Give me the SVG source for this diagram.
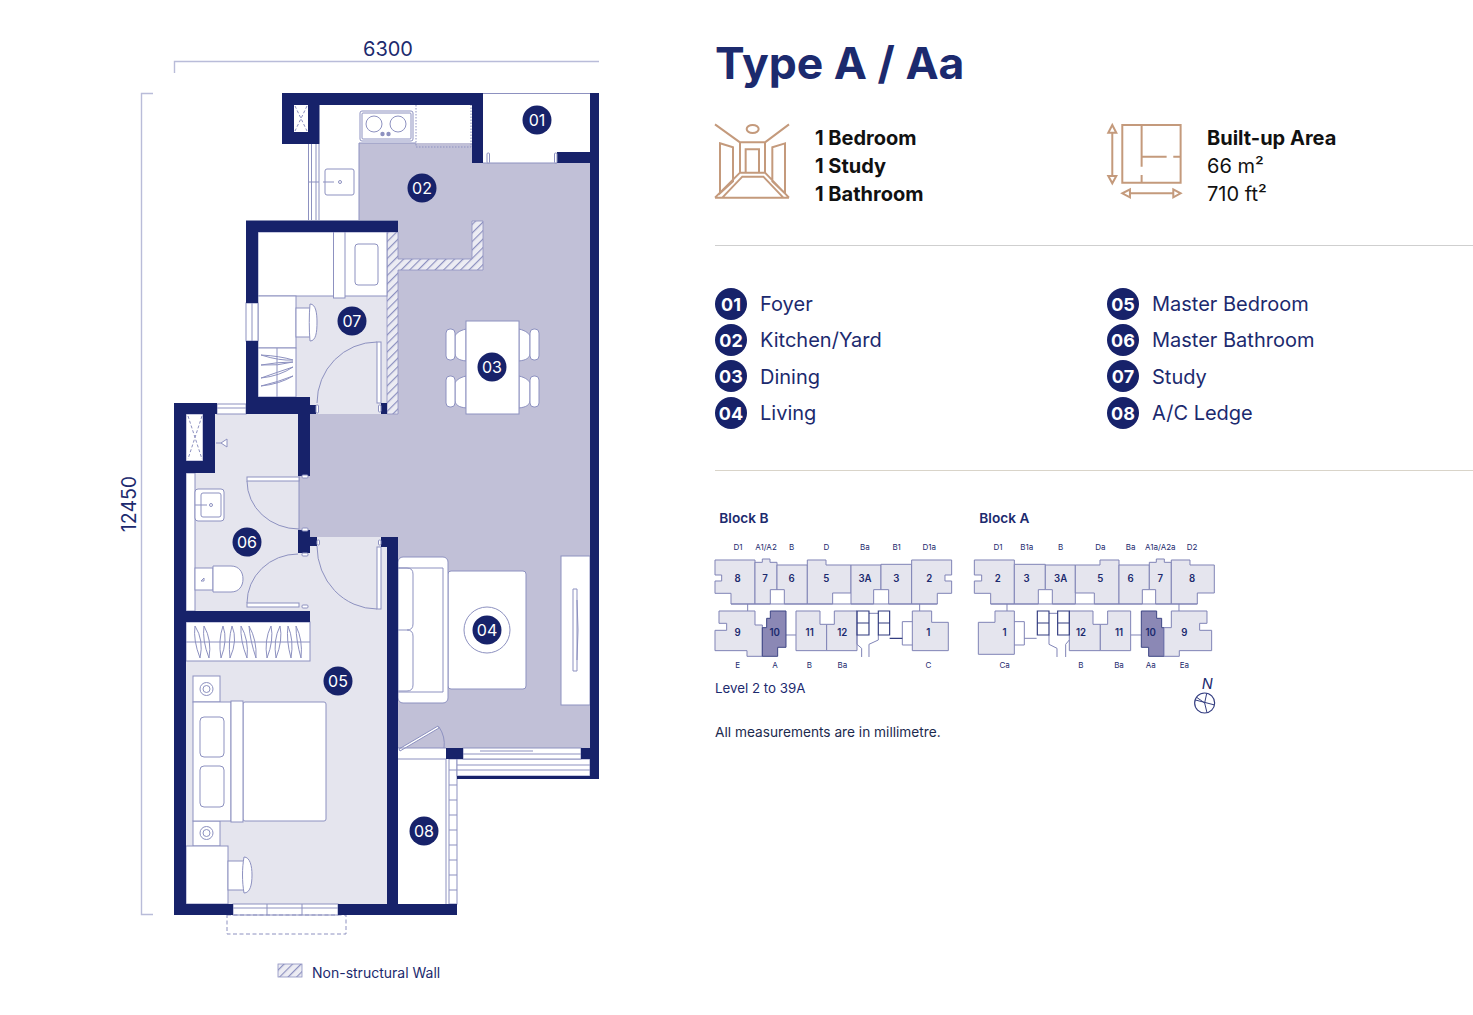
<svg xmlns="http://www.w3.org/2000/svg" width="1473" height="1015" viewBox="0 0 1473 1015">
<style>
text{font-family:Inter,"Liberation Sans",sans-serif;fill:#1c2a6e}
.w{fill:#17226a}
.o{fill:none;stroke:#8d91c0;stroke-width:1}
.f{fill:#fff;stroke:#8d91c0;stroke-width:1}
.l{fill:#e5e5ee}
.dim{fill:none;stroke:#b9bcd9;stroke-width:1.4}
.bc{fill:#17226a}
.bt{fill:#fff;font-size:16px;text-anchor:middle}
.lc{fill:#17226a}
.lt{fill:#fff;font-size:18px;font-weight:700;text-anchor:middle}
.ll{font-size:20px}
.sp{font-size:20px;font-weight:700;fill:#111}
.sr{font-size:20px;fill:#111}
.ic{fill:none;stroke:#c49a7c;stroke-width:6}
.u{fill:#e5e5ee;stroke:#7f84b6;stroke-width:3}
.d{fill:#8b88b5;stroke:#3d4585;stroke-width:3}
.k{fill:#fff;stroke:#7f84b6;stroke-width:3}
.c{fill:none;stroke:#333d80;stroke-width:3.5}
.n{font-size:29px;font-weight:600;text-anchor:middle}
.s{font-size:24px;text-anchor:middle}
.g{fill:none;stroke:#7f84b6;stroke-width:3}
</style>
<defs>
<pattern id="h" width="6" height="6" patternUnits="userSpaceOnUse" patternTransform="rotate(45)">
<rect width="6" height="6" fill="#ececf3"/><rect width="1.2" height="6" fill="#8d91c0"/>
</pattern>
</defs>
<g id="dimensions">
<path class="dim" d="M174.500 73V61.500H599M153 93.500H141.500V914.500H153"/>
<text x="388" y="55.500" font-size="20" text-anchor="middle">6300</text>
<text transform="translate(136,504) rotate(-90)" font-size="19.500" text-anchor="middle">12450</text>
</g>
<g id="plan">
<path fill="#c1c0d7" d="M359 143H472V163H590V748H398V537H299V476H310V414H398V220H359Z"/>
<path class="l" d="M296 296H387V414H296ZM215 414H299V473H215ZM186 473H299V611H186ZM186 622H387V904H186ZM299 537H387V622H299Z"/>
<path class="o" d="M483 93.500H590M483 163H557M299 476V530"/>
<g id="walls-nonstructural" fill="url(#h)" stroke="#8d91c0" stroke-width=".8">
<path d="M387 232H398V259H472V221H483V270H398V414H387Z"/>
</g>
<g id="kitchen">
<rect class="f" x="360" y="111" width="53" height="30" rx="2"/>
<rect class="o" x="362" y="113" width="49" height="26" rx="1"/>
<circle class="o" cx="374" cy="124" r="8"/><circle class="o" cx="398" cy="124" r="8"/>
<circle cx="382.500" cy="134" r="2.200" fill="#8d91c0"/><circle cx="388.500" cy="134" r="2.200" fill="#8d91c0"/>
<path d="M416 105V147H471V105" fill="none" stroke="#8d91c0" stroke-dasharray="1.500 1.500"/>
<rect class="o" x="325" y="169" width="29" height="26" rx="2"/>
<path class="o" d="M323 182H334M359 143V220M359 143H416"/>
<circle class="o" cx="340" cy="182" r="1.500"/>
<path class="o" d="M308.500 144V220M311.500 144V220M316 144V220M319 144V220M308 182H319"/>
<path class="o" d="M295 106L307 131M307 106L295 131" stroke-dasharray="3 2"/>
</g>
<g id="study">
<rect class="f" x="258" y="232" width="129" height="64"/>
<rect class="f" x="333.500" y="232" width="11.500" height="66"/>
<rect class="o" x="355" y="244" width="23" height="41" rx="3"/>
<rect class="f" x="258" y="296" width="38" height="52"/>
<rect class="f" x="258" y="348" width="38" height="49"/>
<path class="o" d="M277 348V397M261 355Q280 356 293 360 280 361 261 355ZM261 365Q278 362 293 362 278 366 261 365ZM261 378Q278 372 293 367 280 376 261 378ZM261 386Q278 382 293 376 280 384 261 386Z"/>
<rect class="f" x="296" y="308" width="15" height="29"/>
<path class="f" d="M310 304C316 304 317 314 317 322 317 332 316 341 310 341 309 330 309 315 310 304Z"/>
<rect class="f" x="377" y="342" width="4" height="61"/>
<path class="o" d="M377 342A60 61 0 0 0 317 403"/>
<rect class="f" x="246" y="303" width="12" height="38"/><path class="o" d="M252 303V341"/>
</g>
<g id="dining">
<path class="f" d="M466 329C458 331 456 334 455 336V354C456 358 458 360 466 361ZM466 376C458 378 456 381 455 383V401C456 405 458 407 466 408ZM519 329C527 331 529 334 530 336V354C529 358 527 360 519 361ZM519 376C527 378 529 381 530 383V401C529 405 527 407 519 408Z"/>
<rect class="f" x="446" y="329" width="9" height="31" rx="4"/><rect class="f" x="446" y="376" width="9" height="31" rx="4"/>
<rect class="f" x="530" y="329" width="9" height="31" rx="4"/><rect class="f" x="530" y="376" width="9" height="31" rx="4"/>
<rect class="f" x="466" y="321" width="53" height="93"/>
</g>
<g id="living">
<rect class="f" x="448" y="571" width="78" height="118" rx="3"/>
<rect class="f" x="398" y="557" width="50" height="146" rx="5"/>
<path class="o" d="M398 568H443V692H398M398 568H407Q413 568 413 574V624Q413 630 407 630H398M407 630Q413 630 413 636V685Q413 691 407 691H398"/>
<circle class="f" cx="487" cy="630" r="23"/>
<rect class="f" x="561" y="556" width="29" height="149"/>
<path class="f" d="M573 589H577V671H573Z"/>
<path class="o" d="M577 600Q579 630 577 660"/>
</g>
<g id="bathroom">
<path class="f" d="M186 473H195V611H186Z"/>
<rect class="f" x="195" y="489" width="29" height="32" rx="3"/>
<rect class="o" x="201" y="493" width="20" height="24" rx="2"/>
<path class="o" d="M195 505H207"/><circle class="o" cx="211" cy="505" r="1.500"/>
<rect class="f" x="195" y="568" width="18" height="22"/>
<path class="f" d="M213 566H231C239 566 243 572 243 579 243 586 239 592 231 592H213Z"/>
<path class="o" d="M201 581L204 578 204 581Z"/>
<rect class="f" x="186" y="414" width="17" height="47"/>
<path class="o" d="M188 416L202 459M202 416L188 459" stroke-dasharray="3 2"/>
<path class="f" d="M216 443H221L227 439V447L221 443"/>
<rect class="f" x="247" y="477" width="52" height="4"/>
<path class="o" d="M247 481A52 48 0 0 0 299 529"/>
<rect class="f" x="247" y="603" width="52" height="4"/>
<path class="o" d="M247 603A51 49 0 0 1 298 554"/>
<rect class="f" x="217" y="404" width="29" height="10"/><path class="o" d="M217 408H246"/>
</g>
<g id="bedroom">
<rect class="f" x="377" y="547" width="4" height="62"/>
<path class="o" d="M377 609A60 63 0 0 1 317 546"/>
<rect class="f" x="186" y="622" width="124" height="39"/>
<path class="o" d="M186 642H310M195 626Q193 640 200 658 204 640 195 626ZM204 626Q202 640 209 658 212 640 204 626ZM223 626Q218 640 221 658 228 640 223 626ZM232 626Q228 640 230 658 238 640 232 626ZM241 626Q240 640 247 658 249 640 241 626ZM249 626Q250 640 256 658 257 640 249 626ZM271 626Q264 640 267 658 274 640 271 626ZM280 626Q273 640 276 658 283 640 280 626ZM288 626Q286 640 291 658 294 640 288 626ZM296 626Q296 640 301 658 303 640 296 626Z"/>
<rect class="f" x="193" y="676" width="27" height="26"/><rect class="f" x="193" y="821" width="27" height="25"/>
<circle class="o" cx="206.500" cy="689" r="6.500"/><circle class="o" cx="206.500" cy="689" r="3.500"/>
<circle class="o" cx="206.500" cy="833" r="6.500"/><circle class="o" cx="206.500" cy="833" r="3.500"/>
<rect class="f" x="193" y="702" width="38" height="119"/>
<rect class="o" x="200" y="717" width="24" height="40" rx="4"/><rect class="o" x="200" y="766" width="24" height="41" rx="4"/>
<rect class="f" x="243" y="702" width="83" height="119" rx="2"/>
<rect class="f" x="231" y="701" width="12" height="121"/>
<rect class="f" x="186" y="846" width="42" height="58"/>
<rect class="f" x="228" y="861" width="16" height="29"/>
<path class="f" d="M244 857C250 857 252 866 252 875 252 885 250 893 244 893 242 882 242 868 244 857Z"/>
<rect class="f" x="233" y="904" width="105" height="11"/>
<path class="o" d="M233 908H338M267 904V915M302 904V915"/>
<rect x="227" y="915" width="119" height="19" fill="none" stroke="#8d91c0" stroke-dasharray="4 2.500"/>
</g>
<g id="ledge">
<path class="o" d="M398 759H446M446 759V904"/>
<rect class="f" x="449" y="759" width="8" height="145"/>
<path class="o" d="M449 770H457M449 785H457M449 800H457M449 815H457M449 830H457M449 845H457M449 860H457M449 875H457M449 890H457"/>
<rect class="f" x="457" y="759" width="133" height="17"/>
<path class="o" d="M457 765H590M457 770H590"/>
<rect class="f" x="463" y="748" width="118" height="11"/>
<path class="o" d="M463 754H581M480 751H533"/>
<path fill="#fff" stroke="#8d91c0" d="M399 749L438 726 439 728 400 751Z"/>
<path class="o" d="M439 727A30 30 0 0 1 444 748"/>
<path class="o" d="M398 748H446"/>
</g>
<g id="walls" class="w">
<path d="M282 93H483V163H472V105H319.500V144H282ZM294 105V132H308V105Z" fill-rule="evenodd"/>
<rect x="590" y="93" width="9" height="686"/>
<rect x="557" y="152" width="33" height="11"/>
<path d="M246 220.500H398V232H258V303H246ZM246 341H258V397H310V414H298V414H246Z"/>
<rect x="310" y="405" width="6" height="9"/>
<rect x="381" y="403" width="6" height="11"/>
<path d="M174 403H217V414H215V473H186V904H233V915H174ZM186 414V461H203V414Z" fill-rule="evenodd"/>
<rect x="298" y="414" width="12" height="62"/>
<rect x="298" y="530" width="12" height="23"/><rect x="310" y="537" width="7" height="9"/>
<rect x="186" y="611" width="124" height="11"/>
<path d="M381 537H398V904H457V915H338V904H387V547H381Z"/>
<rect x="457" y="776" width="142" height="3"/>
<rect x="446" y="748" width="17" height="11"/>
<rect x="581" y="748" width="9" height="11"/>
</g>
<g id="hinges" class="f">
<rect x="487" y="153" width="2.500" height="10" rx="1"/><rect x="554.500" y="153" width="2.500" height="10" rx="1"/>
<rect x="302" y="475" width="6" height="3" rx="1"/><rect x="302" y="528" width="6" height="3" rx="1"/>
<rect x="302" y="553" width="6" height="3" rx="1"/><rect x="302" y="605" width="6" height="3" rx="1"/>
<rect x="317" y="540" width="2.500" height="5" rx="1"/><rect x="378.500" y="540" width="2.500" height="5" rx="1"/>
<rect x="316" y="405" width="2.500" height="8" rx="1"/><rect x="378.500" y="405" width="2.500" height="7" rx="1"/>
</g>
<g id="legend">
<rect x="278" y="964" width="24" height="13" fill="url(#h)" stroke="#8d91c0" stroke-width=".8"/>
<text x="312" y="977.500" font-size="14">Non-structural Wall</text>
</g>
</g>
<g id="room-badges">
<g id="b01"><circle class="bc" cx="537" cy="120" r="14.500"/><text class="bt" x="537" y="126">01</text></g>
<g id="b02"><circle class="bc" cx="422" cy="188" r="14.500"/><text class="bt" x="422" y="194">02</text></g>
<g id="b03"><circle class="bc" cx="492" cy="367" r="14.500"/><text class="bt" x="492" y="373">03</text></g>
<g id="b04"><circle class="bc" cx="487" cy="630" r="14.500"/><text class="bt" x="487" y="636">04</text></g>
<g id="b05"><circle class="bc" cx="338" cy="681" r="14.500"/><text class="bt" x="338" y="687">05</text></g>
<g id="b06"><circle class="bc" cx="247" cy="542" r="14.500"/><text class="bt" x="247" y="548">06</text></g>
<g id="b07"><circle class="bc" cx="352" cy="321" r="14.500"/><text class="bt" x="352" y="327">07</text></g>
<g id="b08"><circle class="bc" cx="424" cy="831" r="14.500"/><text class="bt" x="424" y="837">08</text></g>
</g>
<g id="header">
<text x="715" y="79" font-size="44.500" font-weight="700">Type A / Aa</text>
<g transform="translate(705,110) scale(.3333)">
<path class="ic" d="M30 43L105 97M252 43L180 97M105 97H180V188H105ZM122 188V118H162V188M45 100L84 112V214L45 250ZM240 100L202 112V214L240 250ZM30 263H252M52 263L112 200H175L235 263M30 263L105 188M252 263L180 188"/>
<ellipse class="ic" cx="143" cy="57" rx="18" ry="12"/>
<path class="ic" d="M1252 45H1427V218H1252ZM1310 45V170M1310 195V218M1310 140H1385M1405 140H1427M1222 70V198M1210 68L1222 45 1234 68ZM1210 198L1222 220 1234 198ZM1275 250H1405M1275 238L1252 250 1275 262ZM1405 238L1427 250 1405 262Z"/>
</g>
<text class="sp" x="815" y="145">1 Bedroom</text>
<text class="sp" x="815" y="173">1 Study</text>
<text class="sp" x="815" y="201">1 Bathroom</text>
<text class="sp" x="1207" y="145">Built-up Area</text>
<text class="sr" x="1207" y="173">66 m²</text>
<text class="sr" x="1207" y="201">710 ft²</text>
<path d="M715 245.500H1473" stroke="#cfcfcf"/>
<path d="M715 470.500H1473" stroke="#d9d4c9"/>
</g>
<g id="key">
<circle class="lc" cx="731" cy="304" r="16"/><text class="lt" x="731" y="310.500">01</text><text class="ll" x="760" y="311">Foyer</text>
<circle class="lc" cx="731" cy="340" r="16"/><text class="lt" x="731" y="346.500">02</text><text class="ll" x="760" y="347">Kitchen/Yard</text>
<circle class="lc" cx="731" cy="376" r="16"/><text class="lt" x="731" y="382.500">03</text><text class="ll" x="760" y="384">Dining</text>
<circle class="lc" cx="731" cy="413" r="16"/><text class="lt" x="731" y="419.500">04</text><text class="ll" x="760" y="420">Living</text>
<circle class="lc" cx="1123" cy="304" r="16"/><text class="lt" x="1123" y="310.500">05</text><text class="ll" x="1152" y="311">Master Bedroom</text>
<circle class="lc" cx="1123" cy="340" r="16"/><text class="lt" x="1123" y="346.500">06</text><text class="ll" x="1152" y="347">Master Bathroom</text>
<circle class="lc" cx="1123" cy="376" r="16"/><text class="lt" x="1123" y="382.500">07</text><text class="ll" x="1152" y="384">Study</text>
<circle class="lc" cx="1123" cy="413" r="16"/><text class="lt" x="1123" y="419.500">08</text><text class="ll" x="1152" y="420">A/C Ledge</text>
</g>
<g id="block-b" transform="translate(705,505) scale(.3333)">
<text x="43" y="53" font-size="41" font-weight="600">Block B</text>
<path class="u" d="M30 165H150V297H78V265H30V228H50V210H30Z"/>
<path class="u" d="M150 172H172V162H195V172H216V254H196V297H150Z"/>
<path class="u" d="M216 180H307V297H238V254H216Z"/>
<path class="u" d="M307 165H363V180H438V264H383V297H307Z"/>
<path class="u" d="M438 180H528V254H506V297H438Z"/>
<path class="u" d="M528 178H620V297H551V254H528Z"/>
<path class="u" d="M620 165H740V210H720V228H740V265H697V297H620Z"/>
<path class="g" d="M128 297V318M644 297V318M243 390H273M78 297H697"/>
<path class="u" d="M42 318H150V360H172V454H126V437H30V376H65V355H42Z"/>
<path class="d" d="M196 318H243V427H218V454H172V368H185V340H196Z"/>
<path class="u" d="M273 318H345V358H365V437H273Z"/>
<path class="u" d="M365 358H388V318H456V437H365Z"/>
<path class="u" d="M622 318H680V352H730V437H622Z"/>
<path class="g" d="M592 420V350H622M592 420H622M456 390V418L470 430V456M492 456V418L520 405V390M492 325H520"/>
<path class="c" d="M456 318H492V390H456ZM456 354H492M520 318H554V390H520ZM520 354H554M554 400H592"/>
<g>
<text class="n" x="98" y="230">8</text><text class="n" x="180" y="230">7</text><text class="n" x="260" y="230">6</text><text class="n" x="364" y="230">5</text><text class="n" x="480" y="230">3A</text><text class="n" x="574" y="230">3</text><text class="n" x="673" y="230">2</text>
<text class="n" x="98" y="392">9</text><text class="n" x="209" y="392">10</text><text class="n" x="314" y="392">11</text><text class="n" x="412" y="392">12</text><text class="n" x="670" y="392">1</text>
<text class="s" x="99" y="136">D1</text><text class="s" x="183" y="136">A1/A2</text><text class="s" x="260" y="136">B</text><text class="s" x="364" y="136">D</text><text class="s" x="480" y="136">Ba</text><text class="s" x="575" y="136">B1</text><text class="s" x="673" y="136">D1a</text>
<text class="s" x="98" y="488">E</text><text class="s" x="210" y="488">A</text><text class="s" x="313" y="488">B</text><text class="s" x="412" y="488">Ba</text><text class="s" x="670" y="488">C</text>
</g>
</g>
<g id="block-a" transform="translate(965,505) scale(.3333)">
<text x="43" y="53" font-size="41" font-weight="600">Block A</text>
<path class="u" d="M28 165H148V297H77V265H28V228H50V210H28Z"/>
<path class="u" d="M148 178H241V254H220V297H148Z"/>
<path class="u" d="M241 180H331V297H262V254H241Z"/>
<path class="u" d="M331 180H405V165H462V297H388V264H331Z"/>
<path class="u" d="M462 180H553V254H532V297H462Z"/>
<path class="u" d="M553 172H574V162H598V172H619V297H572V254H553Z"/>
<path class="u" d="M619 165H675V180H748V264H697V297H619Z"/>
<path class="g" d="M126 297V318M642 297V318M497 390H529M77 297H697"/>
<path class="u" d="M90 318H148V448H40V352H90Z"/>
<path class="u" d="M313 318H384V358H406V437H313Z"/>
<path class="u" d="M406 358H428V318H497V437H406Z"/>
<path class="d" d="M529 318H575V340H590V368H597V454H551V427H529Z"/>
<path class="u" d="M619 318H726V355H704V376H740V437H643V454H597V368H619Z"/>
<path class="g" d="M148 350H178V420H148M178 400H215M252 390V418L276 430V456M302 456V418L313 405M252 325H278"/>
<path class="c" d="M217 318H252V390H217ZM217 354H252M278 318H313V390H278ZM278 354H313"/>
<g>
<text class="n" x="98" y="230">2</text><text class="n" x="185" y="230">3</text><text class="n" x="287" y="230">3A</text><text class="n" x="406" y="230">5</text><text class="n" x="497" y="230">6</text><text class="n" x="586" y="230">7</text><text class="n" x="681" y="230">8</text>
<text class="n" x="119" y="392">1</text><text class="n" x="348" y="392">12</text><text class="n" x="462" y="392">11</text><text class="n" x="557" y="392">10</text><text class="n" x="658" y="392">9</text>
<text class="s" x="99" y="136">D1</text><text class="s" x="185" y="136">B1a</text><text class="s" x="287" y="136">B</text><text class="s" x="406" y="136">Da</text><text class="s" x="497" y="136">Ba</text><text class="s" x="586" y="136">A1a/A2a</text><text class="s" x="681" y="136">D2</text>
<text class="s" x="119" y="488">Ca</text><text class="s" x="348" y="488">B</text><text class="s" x="462" y="488">Ba</text><text class="s" x="557" y="488">Aa</text><text class="s" x="658" y="488">Ea</text>
</g>
<text x="727" y="552" font-size="44" font-style="italic" text-anchor="middle">N</text>
<circle cx="719" cy="594" r="30" fill="none" stroke="#333d80" stroke-width="3.500"/>
<path fill="none" stroke="#333d80" stroke-width="3" d="M691 585L749 600M725 566L719 594 726 623M719 594L695 577"/>
</g>
<text x="715" y="693" font-size="13.300">Level 2 to 39A</text>
<text x="715" y="737" font-size="13.700" style="fill:#1c2a4e">All measurements are in millimetre.</text>
</svg>
